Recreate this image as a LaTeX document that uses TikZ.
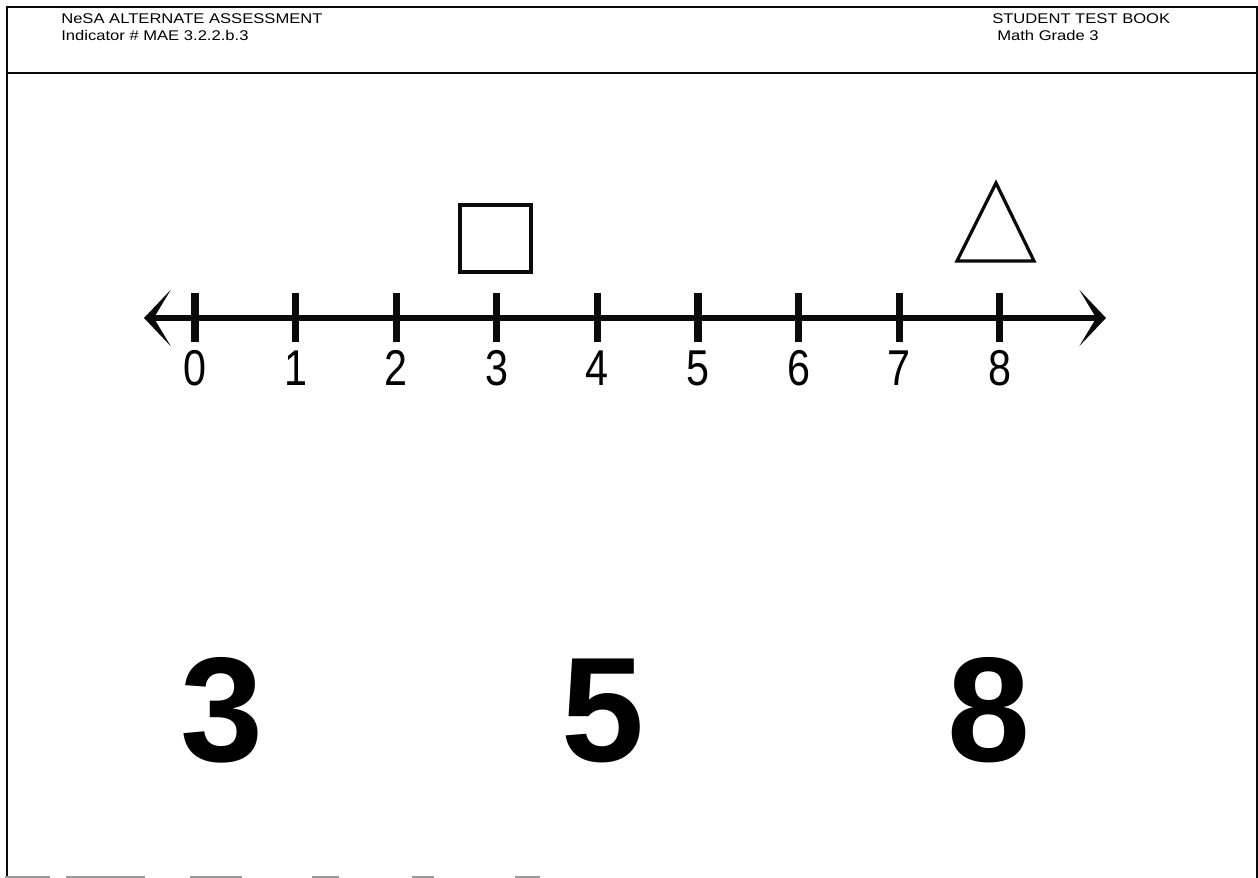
\documentclass[tikz,border=0pt]{standalone}
\usepackage{fontspec}
\setmainfont{Liberation Sans}
\usepackage{xcolor}
\usepackage{tikz}
\usetikzlibrary{arrows.meta, positioning}

\definecolor{InkBlack}{HTML}{0A0A0A}
\definecolor{EdgeGray}{HTML}{9A9A9A}

\newcommand{\wideline}[1]{\scalebox{1.18}[1]{#1}}

\tikzset{
  frameline/.style={line width=1.5pt, draw=InkBlack},
  headtext/.style={anchor=base west, inner sep=0pt, font=\fontsize{10}{11}\selectfont},
  numline/.style={line width=4.3pt, draw=InkBlack, {Stealth[length=19pt, width=40pt, inset=12pt]}-{Stealth[length=19pt, width=40pt, inset=12pt]}},
  tickmark/.style={line width=5pt, draw=InkBlack},
  numlab/.style={anchor=base, inner sep=0pt, font=\fontsize{35.8}{38}\selectfont},
  bigdigit/.style={anchor=base, inner sep=0pt, font=\fontsize{106}{110}\selectfont\bfseries},
  shapeline/.style={line width=2.3pt, draw=InkBlack, line join=miter}
}

\begin{document}
\begin{tikzpicture}[x=0.025cm, y=-0.025cm]
      \useasboundingbox (0,0) rectangle (1258,878);

      % Frame
      \draw[frameline] (7,878) -- (7,7) -- (1257,7) -- (1257,878);
      \draw[frameline] (7,73) -- (1257,73);
      \foreach \a/\b in {5/50, 66/145, 190/242, 312/339, 412/434, 515/540} {
        \draw[EdgeGray, line width=1pt] (\a,877) -- (\b,877);
      }

      % Header
      \node[headtext] (title) at (61,24) {\wideline{NeSA ALTERNATE ASSESSMENT}};
      \node[headtext] (indic) at (61,40.5) {\wideline{Indicator \# MAE 3.2.2.b.3}};
      \node[headtext] (book) at (992,24) {\wideline{STUDENT TEST BOOK}};
      \node[headtext] (grade) at (997,40.5) {\wideline{Math Grade 3}};

      % Number line
      \coordinate (lend) at (144,318);
      \coordinate (rend) at (1106,318);
      \draw[numline] (lend) -- (rend);
      \foreach \i in {0,...,8} {
        \draw[tickmark] (195+100.6*\i,293) -- (195+100.6*\i,342);
        \node[numlab] (lab\i) at (195+100.6*\i,386) {\scalebox{0.82}[1]{\i}};
      }

      % Shapes above the line
      \draw[shapeline] (460,205) rectangle (531,272);
      \draw[shapeline] (996,183) -- (1034,261) -- (957,261) -- cycle;

      % Answer choices
      \node[bigdigit] (ansA) at (222,761) {3};
      \node[bigdigit] (ansB) at (603,761) {5};
      \node[bigdigit] (ansC) at (989,761) {8};
\end{tikzpicture}
\end{document}
